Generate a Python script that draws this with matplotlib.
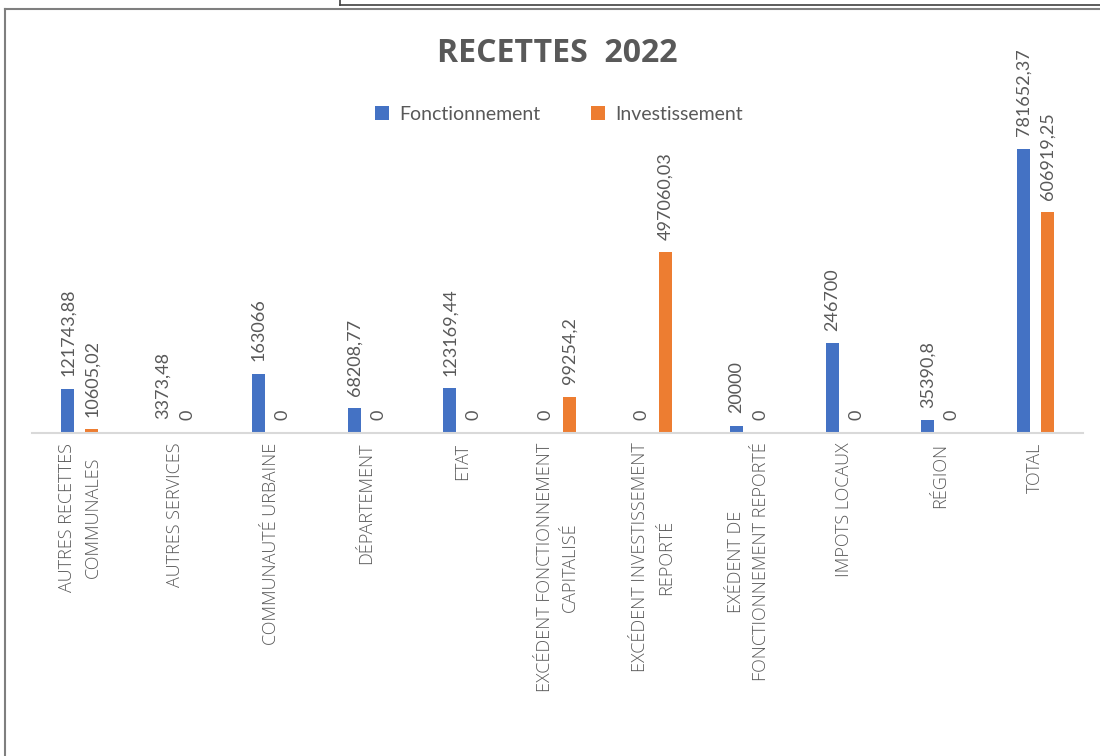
import matplotlib
matplotlib.use("Agg")
import matplotlib.pyplot as plt
from matplotlib.lines import Line2D
from matplotlib.patches import Patch
import numpy as np

plt.rcParams['font.family'] = ['Lato', 'DejaVu Sans']

categories = [
    "AUTRES RECETTES\nCOMMUNALES",
    "AUTRES SERVICES",
    "COMMUNAUTÉ URBAINE",
    "DÉPARTEMENT",
    "ETAT",
    "EXCÉDENT FONCTIONNEMENT\nCAPITALISÉ",
    "EXCÉDENT INVESTISSEMENT\nREPORTÉ",
    "EXÉDENT DE\nFONCTIONNEMENT REPORTÉ",
    "IMPOTS LOCAUX",
    "RÉGION",
    "TOTAL",
]
fonctionnement = [121743.88, 3373.48, 163066, 68208.77, 123169.44, 0, 0, 20000, 246700, 35390.8, 781652.37]
investissement = [10605.02, 0, 0, 0, 0, 99254.2, 497060.03, 0, 0, 0, 606919.25]
series_names = ["Fonctionnement", "Investissement"]
title = "RECETTES  2022"

BLUE = "#4472C4"
ORANGE = "#ED7D31"
GRAY = "#595959"


def fmt(v):
    s = f"{v:.2f}".rstrip('0').rstrip('.')
    return s.replace('.', ',')


fig = plt.figure(figsize=(11, 7.56), dpi=100)
W, H = 1100, 756
left_px, right_px = 32, 1083
base_px, top_px = 433, 106
ax = fig.add_axes([left_px / W, 1 - base_px / H, (right_px - left_px) / W, (base_px - top_px) / H])

x = np.arange(len(categories))
bw = 0.136
off = 0.126
b1 = ax.bar(x - off, fonctionnement, bw, color=BLUE, zorder=2)
b2 = ax.bar(x + off, investissement, bw, color=ORANGE, zorder=2)

for bars, vals in ((b1, fonctionnement), (b2, investissement)):
    for rect, v in zip(bars, vals):
        ax.annotate(fmt(v), (rect.get_x() + rect.get_width() / 2, rect.get_height()),
                    xytext=(0, 9), textcoords='offset points', rotation=90,
                    ha='center', va='bottom', fontsize=13, color=GRAY)

ax.set_xlim(-0.5, len(categories) - 0.5)
ax.set_ylim(0, 900000)
ax.set_xticks(x)
ax.set_xticklabels(categories, rotation=90, fontsize=13, color=GRAY,
                   family=['Open Sans', 'DejaVu Sans'], fontweight='light',
                   multialignment='center', va='top', ha='center', linespacing=1.55)
ax.tick_params(axis='x', length=0, pad=7)
ax.set_yticks([])
for s in ('left', 'right', 'top'):
    ax.spines[s].set_visible(False)
ax.spines['bottom'].set_color('#D9D9D9')
ax.spines['bottom'].set_linewidth(1.5)
ax.set_facecolor('none')

fig.text(557 / W, 1 - 54 / H, title, ha='center', va='center', fontsize=23,
         fontweight='bold', color=GRAY, family=['Open Sans', 'DejaVu Sans'])

handles = [Patch(facecolor=BLUE, edgecolor='none'), Patch(facecolor=ORANGE, edgecolor='none')]
fig.legend(handles, series_names, loc='center', bbox_to_anchor=(559 / W, 1 - 114 / H),
           ncol=2, frameon=False, fontsize=14, labelcolor=GRAY,
           handlelength=0.7, handleheight=0.7, handletextpad=0.55, columnspacing=2.6)

# chart frame lines
fig.add_artist(Line2D([4.5 / W, 4.5 / W], [0, 1 - 9 / H], color='#7F7F7F', lw=1.5, transform=fig.transFigure))
fig.add_artist(Line2D([4.5 / W, 1], [1 - 9 / H, 1 - 9 / H], color='#7F7F7F', lw=1.5, transform=fig.transFigure))
fig.add_artist(Line2D([340 / W, 1], [1 - 5 / H, 1 - 5 / H], color='#404040', lw=1.2, transform=fig.transFigure))
fig.add_artist(Line2D([340 / W, 340 / W], [1 - 5 / H, 1], color='#404040', lw=1.2, transform=fig.transFigure))

fig.savefig("out.png", dpi=100)
